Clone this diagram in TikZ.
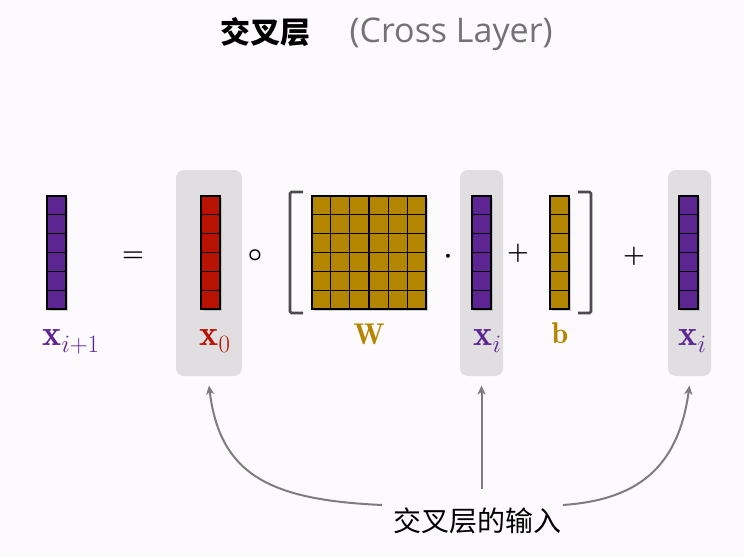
\documentclass[tikz,border=0pt]{standalone}
\usepackage{fontspec}
\setsansfont{Open Sans}
\newfontfamily\cjk{Noto Sans CJK SC}
\usetikzlibrary{positioning,calc,arrows.meta,shadows}

\definecolor{xpurple}{RGB}{93,37,145}
\definecolor{xred}{RGB}{184,18,0}
\definecolor{wgold}{RGB}{180,134,0}
\definecolor{boxgray}{RGB}{224,222,225}
\definecolor{bgpaper}{RGB}{252,250,252}
\definecolor{arrgray}{RGB}{125,125,125}

\newcommand{\fs}[1]{\fontsize{#1}{#1}\selectfont}
% 6 rows, #2 columns
\newcommand{\cellgrid}[2]{%
  \foreach \k in {1,...,5}
    \draw[cell] ($(#1.north west)!\k/6!(#1.south west)$) -- ($(#1.north east)!\k/6!(#1.south east)$);
  \ifnum#2>1
  \foreach \k in {1,...,5}
    \draw[cell] ($(#1.north west)!\k/6!(#1.north east)$) -- ($(#1.south west)!\k/6!(#1.south east)$);
  \fi}

\begin{document}
\begin{tikzpicture}[x=1pt, y=-1pt, line width=1pt,
  vec/.style={draw=black, line width=1.3pt, minimum width=19pt, minimum height=113pt, inner sep=0pt,
    drop shadow={shadow xshift=1.5pt, shadow yshift=-1.5pt, opacity=0.35}},
  cell/.style={line width=1.2pt, black},
  inbox/.style={fill=boxgray, rounded corners=8pt, minimum width=43pt, minimum height=206pt, inner sep=0pt},
  lab/.style={font=\fs{36}, inner sep=0pt},
  op/.style={font=\fs{28}\boldmath, anchor=base},
  brk/.style={line width=2.6pt, black!70, rounded corners=1.5pt},
  arr/.style={-{Stealth[length=9pt, width=8pt, inset=2.5pt]}, line width=2pt, arrgray}]
  \fill[bgpaper] (0,0) rectangle (744,557);
  \useasboundingbox (0,0) rectangle (744,557);

  % title
  \node[font=\cjk\bfseries\fs{30}, anchor=west, inner sep=0pt] (ttl) at (220,32) {交叉层};
  \node[font=\sffamily\fs{34}, text=black!55, anchor=west, inner sep=0pt] (ttlen) at (349,34) {(Cross Layer)};

  % input boxes
  \node[inbox, minimum width=66pt] (box0) at (209,273) {};
  \node[inbox] (box1) at (481.5,273) {};
  \node[inbox] (box2) at (689.5,273) {};

  % vectors and matrix
  \node[vec, fill=xpurple] (xnext) at (56.5,252.5) {};
  \node[vec, fill=xred] (xzero) at (210.5,252.5) {};
  \node[vec, fill=wgold, minimum width=114pt] (wmat) at (369,252.5) {};
  \node[vec, fill=xpurple] (xcur) at (481.5,252.5) {};
  \node[vec, fill=wgold] (bias) at (559.5,252.5) {};
  \node[vec, fill=xpurple] (xskip) at (688.5,252.5) {};
  \foreach \v in {xnext,xzero,xcur,bias,xskip} {\cellgrid{\v}{1}}
  \cellgrid{wmat}{6}

  % labels
  \node[lab, anchor=base west, text=xpurple] (lxnext) at (42,345) {$\mathbf{x}_{i+1}$};
  \node[lab, anchor=base west, text=xred] (lxzero) at (199,345) {$\mathbf{x}_0$};
  \node[lab, anchor=base, text=wgold, font=\fs{30}] (lwmat) at (369,344) {$\mathbf{W}$};
  \node[lab, anchor=base west, text=xpurple] (lxcur) at (473,345) {$\mathbf{x}_i$};
  \node[lab, anchor=base, text=wgold, font=\fs{30}] (lbias) at (560,343) {$\mathbf{b}$};
  \node[lab, anchor=base west, text=xpurple] (lxskip) at (678,345) {$\mathbf{x}_i$};

  % operators
  \node[op] (eq) at (133,261) {$=$};
  \node[op] (had) at (255,261) {$\circ$};
  \node[op, font=\fs{38}\boldmath] (dot) at (448,262.5) {$\cdot$};
  \node[op] (plusa) at (518,259) {$+$};
  \node[op] (plusb) at (634,262) {$+$};

  % brackets
  \draw[brk] (303,192) -- (290,192) -- (290,313) -- (303,313);
  \draw[brk] (578,192) -- (591,192) -- (591,313) -- (578,313);

  % input note
  \node[font=\cjk\fs{28}] (inp) at (477,521) {交叉层的输入};
  \draw[arr] ($(inp.west)+(-7,-16)$) .. controls (270,500) and (220,475) .. ([yshift=-9pt]box0.south);
  \draw[arr] ($(inp.north -| box1.south)+(0,-15)$) -- ([yshift=-9pt]box1.south);
  \draw[arr] ($(inp.east)+(-2,-16)$) .. controls (635,500) and (678,470) .. ([yshift=-9pt]box2.south);
\end{tikzpicture}
\end{document}
